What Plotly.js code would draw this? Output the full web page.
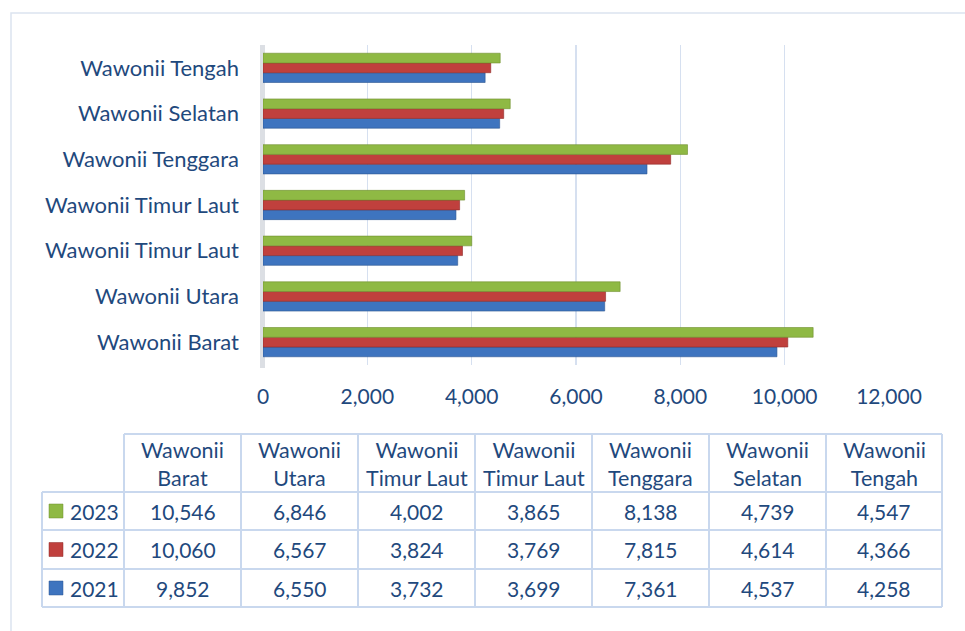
<!DOCTYPE html>
<html>
<head>
<meta charset="utf-8">
<script src="https://cdn.plot.ly/plotly-3.0.1.min.js"></script>
<style>
  html, body { margin: 0; padding: 0; background: #fff; }
  #chart { width: 965px; height: 631px; }
</style>
</head>
<body>
<div id="chart"></div>
<script>
// kecamatan, bottom to top in the bar chart / left to right in the table
const kecamatan = ["Wawonii Barat", "Wawonii Utara", "Wawonii Timur Laut", "Wawonii Timur Laut",
                   "Wawonii Tenggara", "Wawonii Selatan", "Wawonii Tengah"];
const tahun = ["2021", "2022", "2023"];
const v2021 = [9852, 6550, 3732, 3699, 7361, 4537, 4258];
const v2022 = [10060, 6567, 3824, 3769, 7815, 4614, 4366];
const v2023 = [10546, 6846, 4002, 3865, 8138, 4739, 4547];
const xTicks = [0, 2000, 4000, 6000, 8000, 10000, 12000];

const W = 965, H = 631;
const M = { l: 263, r: 76, t: 45, b: 266 };
const pw = W - M.l - M.r, ph = H - M.t - M.b;
// pixel -> paper coords
const px = (x) => (x - M.l) / pw;
const py = (y) => (H - M.b - y) / ph;

const textColor = "#1F497D";
const fontFam = "Lato, 'Open Sans', sans-serif";
const lineCol = "#C9D8EE";

const fill = ["#3E74BF", "#C0403D", "#8FB944"];
const edge = ["#2C5591", "#8E2A28", "#6E8F2E"];
const seriesVals = [v2021, v2022, v2023];
const pos = kecamatan.map((k, i) => i);

const traces = seriesVals.map((vals, s) => ({
    type: "bar",
    orientation: "h",
    name: tahun[s],
    x: vals,
    y: pos,
    marker: { color: fill[s], line: { color: edge[s], width: 0.6 } },
    hoverinfo: "x+name"
}));

// table geometry (pixels)
const colX = [42, 124, 241, 358, 475, 592, 709, 826, 942];
const rowY = [434, 492, 530, 569, 607];

const shapes = [];
const hline = (x0, x1, y) => shapes.push({ type: "line", xref: "paper", yref: "paper",
    x0: px(x0), x1: px(x1), y0: py(y), y1: py(y), line: { color: lineCol, width: 2 } });
const vline = (x, y0, y1) => shapes.push({ type: "line", xref: "paper", yref: "paper",
    x0: px(x), x1: px(x), y0: py(y0), y1: py(y1), line: { color: lineCol, width: 2 } });

// outer frame
shapes.push({ type: "rect", xref: "paper", yref: "paper", x0: px(11), x1: px(990), y0: py(13), y1: py(660),
    line: { color: "#DCE4F0", width: 1.5 }, layer: "below" });
// side wall
shapes.push({ type: "rect", xref: "paper", yref: "paper", x0: px(260), x1: px(265), y0: py(45), y1: py(368),
    fillcolor: "#DCDFE4", line: { width: 0 }, layer: "below" });

hline(colX[1], colX[8], rowY[0]);
for (let r = 1; r < rowY.length; r++) hline(colX[0], colX[8], rowY[r]);
vline(colX[0], rowY[1], rowY[4]);
for (let c = 1; c < colX.length; c++) vline(colX[c], rowY[0], rowY[4]);

const annotations = [];
const note = (x, y, text, size, xanchor) => annotations.push({ xref: "paper", yref: "paper", x: px(x), y: py(y),
    text: text, showarrow: false, xanchor: xanchor || "center", yanchor: "middle",
    font: { family: fontFam, size: size, color: textColor } });

// header cells
kecamatan.forEach((k, i) => {
    const cx = (colX[i + 1] + colX[i + 2]) / 2;
    note(cx, (rowY[0] + rowY[1]) / 2 + 1, k.replace(" ", "<br>"), 21.5);
});

// rows: 2023, 2022, 2021 top to bottom
const rowSeries = [2, 1, 0];
rowSeries.forEach((s, r) => {
    const cy = (rowY[r + 1] + rowY[r + 2]) / 2;
    shapes.push({ type: "rect", xref: "paper", yref: "paper", x0: px(49), x1: px(63), y0: py(cy - 7), y1: py(cy + 7),
        fillcolor: fill[s], line: { color: edge[s], width: 0.5 } });
    note(68, cy, tahun[s], 21, "left");
    seriesVals[s].forEach((v, i) => {
        const cx = (colX[i + 1] + colX[i + 2]) / 2;
        note(cx, cy, v.toLocaleString("en-US"), 21);
    });
});

const layout = {
    width: W, height: H,
    margin: M,
    paper_bgcolor: "#fff", plot_bgcolor: "#fff",
    showlegend: false,
    barmode: "group",
    bargap: 0.36,
    bargroupgap: 0,
    font: { family: fontFam, size: 21, color: textColor },
    xaxis: {
        range: [0, 12000],
        tickvals: xTicks,
        tickformat: ",",
        showgrid: true, gridcolor: "#D6E0F0", gridwidth: 1.5,
        zeroline: false, showline: false, ticks: "",
        ticklabelstandoff: 17,
        tickfont: { family: fontFam, size: 21, color: textColor },
        fixedrange: true
    },
    yaxis: {
        range: [-0.5, 6.5],
        tickvals: pos,
        ticktext: kecamatan,
        showgrid: false, zeroline: false, showline: false, ticks: "",
        ticklabelstandoff: 23,
        tickfont: { family: fontFam, size: 22, color: textColor },
        fixedrange: true
    },
    shapes: shapes,
    annotations: annotations
};

Plotly.newPlot("chart", traces, layout, { displayModeBar: false, staticPlot: true });
</script>
</body>
</html>
